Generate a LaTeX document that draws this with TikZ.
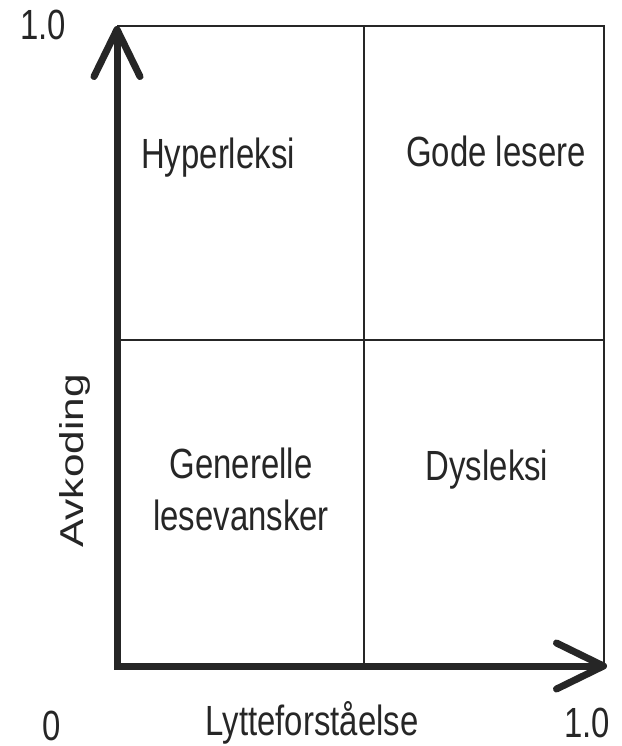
\documentclass[tikz,border=0pt]{standalone}
\usepackage{fontspec}
\setmainfont{Liberation Sans}[FakeStretch=0.78]
\newfontfamily\sidefont{Liberation Sans}[FakeStretch=1.28]
\usepackage{tikz}
\usetikzlibrary{positioning, arrows.meta}

\begin{document}
\begin{tikzpicture}[x=0.01cm, y=-0.01cm,
    >={Straight Barb[length=0.47cm, width=0.46cm, round]},
    axis/.style={<->, line width=0.07cm, line join=miter, draw=black!85},
    gridline/.style={line width=0.02cm, draw=black!85},
    lbl/.style={font=\fontsize{12}{14.8}\selectfont, anchor=base, inner sep=0pt, text=black!85}]
    \useasboundingbox (0,0) rectangle (621,746);

    % Corners of the chart
    \coordinate (O) at (117,666);
    \coordinate (ytop) at (117,26);
    \coordinate (xend) at (607,666);
    \coordinate (tr) at (604,26);
    \coordinate (br) at (604,664);
    \coordinate (ml) at (117,340);
    \coordinate (mr) at (604,340);
    \coordinate (mt) at (364,26);
    \coordinate (mb) at (364,666);

    % Draw frame and dividing lines
    \draw[gridline] (ytop) -- (tr) -- (br);
    \draw[gridline] (ml) -- (mr);
    \draw[gridline] (mt) -- (mb);

    % Draw axes
    \draw[axis] (ytop) -- (O) -- (xend);

    % Quadrant labels
    \node[lbl] (hyper) at (218,169) {Hyperleksi};
    \node[lbl] (gode) at (496,167) {Gode lesere};
    \node[lbl, anchor=center, align=center] (generelle) at (241,489) {Generelle\\lesevansker};
    \node[lbl] (dys) at (487,480) {Dysleksi};

    % Axis labels
    \node[lbl] (xlab) at (312,735) {Lytteforståelse};
    \node[lbl, font=\sidefont\fontsize{9.4}{11}\selectfont, rotate=90] (ylab) at (83,461) {Avkoding};
    \node[lbl] (zero) at (52,740) {0};
    \node[lbl] (xmax) at (587,737) {1.0};
    \node[lbl] (ymax) at (43,40) {1.0};
\end{tikzpicture}
\end{document}
